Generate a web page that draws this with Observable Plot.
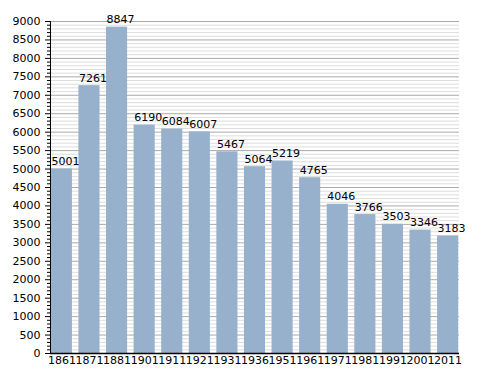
<!DOCTYPE html>
<html>
<head>
<meta charset="utf-8">
<script src="https://cdn.jsdelivr.net/npm/d3@7"></script>
<script src="https://cdn.jsdelivr.net/npm/@observablehq/plot@0.6"></script>
<style>
  html, body { margin: 0; padding: 0; background: #fff; }
  svg { font-family: "DejaVu Sans", sans-serif; }
</style>
</head>
<body>
<div id="chart"></div>
<script>
const years = ["1861","1871","1881","1901","1911","1921","1931","1936","1951","1961","1971","1981","1991","2001","2011"];
const population = [5001,7261,8847,6190,6084,6007,5467,5064,5219,4765,4046,3766,3503,3346,3183];
const majorTicks = d3.range(0, 9001, 500);
const minorTicks = d3.range(0, 9001, 100).filter(v => v % 500 !== 0);

const data = years.map((y, i) => ({year: y, value: population[i]}));

const chart = Plot.plot({
  width: 488,
  height: 373,
  marginLeft: 50,
  marginRight: 29,
  marginTop: 21,
  marginBottom: 20,
  style: {fontFamily: "DejaVu Sans, sans-serif", fontSize: "11px", color: "#000", background: "#fff"},
  x: {domain: years, paddingInner: 0.235, paddingOuter: 0.03, round: false, label: null},
  y: {domain: [0, 9000], label: null},
  marks: [
    Plot.ruleY(minorTicks, {stroke: "#dddddd", strokeWidth: 1}),
    Plot.ruleY(majorTicks, {stroke: "#aaaaaa", strokeWidth: 1}),
    Plot.barY(data, {x: "year", y: "value", fill: "#97b0cb"}),
    Plot.text(data, {x: "year", y: "value", text: d => String(d.value), dx: 3.5, dy: -4, lineAnchor: "bottom", fill: "#000", fontSize: 11}),
    Plot.axisY({ticks: minorTicks, tickSize: 3, text: null, stroke: "#000"}),
    Plot.axisY({ticks: majorTicks, tickSize: 5, tickPadding: 5, tickFormat: d => String(d), fill: "#000", stroke: "#000", fontSize: 11}),
    Plot.axisX({tickSize: 0, tickPadding: 3, fill: "#000", fontSize: 11}),
    Plot.frame({anchor: "left", stroke: "#000"}),
    Plot.ruleY([0], {stroke: "#000", strokeWidth: 1.5})
  ]
});
document.getElementById("chart").appendChild(chart);
</script>
</body>
</html>
